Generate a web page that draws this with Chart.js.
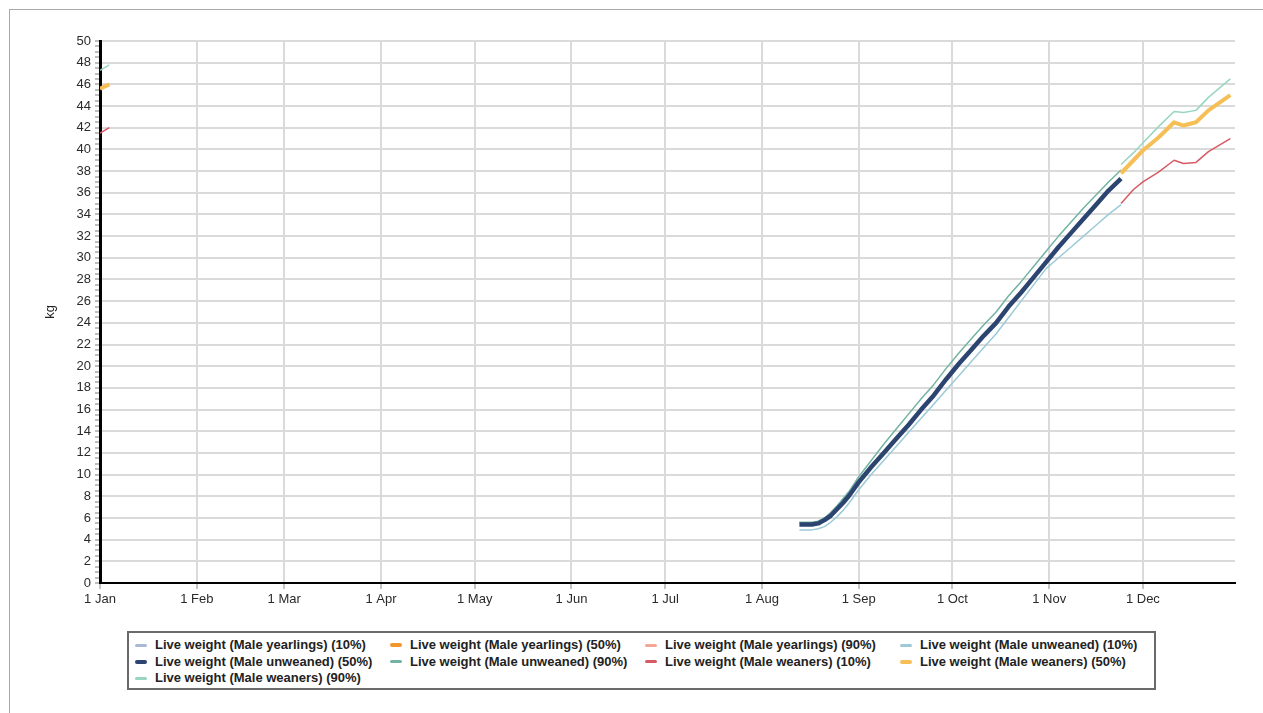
<!DOCTYPE html>
<html>
<head>
<meta charset="utf-8">
<script src="https://cdn.jsdelivr.net/npm/chart.js@4.4.1/dist/chart.umd.min.js"></script>
<style>
  html, body { margin: 0; padding: 0; background: #fff; width: 1263px; height: 713px; overflow: hidden; }
  #frame { position: absolute; left: 9px; top: 9px; width: 1300px; height: 800px; border-top: 1px solid #a8a8a8; border-left: 1px solid #a8a8a8; }
  #wrap { position: absolute; left: 0; top: 0; width: 1263px; height: 625px; }
  #legend { position: absolute; left: 127px; top: 631px; width: 1025px; height: 55px; border: 2px solid #6a6a6a; box-sizing: content-box; font: bold 13px "Liberation Sans", Arial, sans-serif; color: #222; }
  #legend .item { position: absolute; height: 16px; line-height: 16px; white-space: nowrap; }
  #legend .mk { position: absolute; left: 0; top: 50%; width: 12px; border-radius: 2px; }
  #legend .tx { position: absolute; left: 20px; top: 0; }
</style>
</head>
<body>
<div id="frame"></div>
<div id="wrap"><canvas id="c" width="1263" height="625"></canvas></div>
<div id="legend"></div>
<script>
// ---- data (x = day of year, 0 = 1 Jan) ----
const monthDays = [0, 31, 59, 90, 120, 151, 181, 212, 243, 273, 304, 334];
const monthLabels = ['1 Jan', '1 Feb', '1 Mar', '1 Apr', '1 May', '1 Jun', '1 Jul', '1 Aug', '1 Sep', '1 Oct', '1 Nov', '1 Dec'];

const unweanedDays = [224,226,228,230,232,234,236,238,240,243,247,251,255,259,263,267,271,275,279,283,287,291,295,299,303,307,311,315,319,323,327];
const unweaned10 = [4.9,4.9,4.9,5.0,5.2,5.6,6.1,6.7,7.4,8.6,10.0,11.3,12.6,13.9,15.2,16.5,17.8,19.1,20.4,21.7,23.0,24.5,26.0,27.5,29.0,30.0,31.0,32.0,33.0,34.0,34.9];
const unweaned50 = [5.4,5.4,5.4,5.5,5.8,6.2,6.8,7.4,8.1,9.3,10.7,12.0,13.3,14.6,16.0,17.3,18.8,20.2,21.5,22.8,24.0,25.5,26.8,28.2,29.6,31.0,32.3,33.6,34.9,36.2,37.3];
const unweaned90 = [5.6,5.6,5.6,5.7,6.0,6.5,7.1,7.8,8.5,9.8,11.3,12.8,14.2,15.6,17.0,18.3,19.8,21.2,22.5,23.8,25.0,26.5,27.8,29.2,30.6,32.0,33.3,34.6,35.8,37.0,38.1];

const weanersJanDays = [0, 3];
const weanersJan10 = [41.5, 42.0];
const weanersJan50 = [45.6, 46.0];
const weanersJan90 = [47.3, 47.8];

const weanersDecDays = [327, 331, 334, 339, 344, 347, 351, 355, 362];
const weanersDec10 = [35.0, 36.3, 37.0, 37.9, 39.0, 38.7, 38.8, 39.8, 41.0];
const weanersDec50 = [37.8, 39.0, 39.9, 41.1, 42.5, 42.2, 42.5, 43.6, 45.0];
const weanersDec90 = [38.6, 39.7, 40.6, 42.1, 43.5, 43.4, 43.6, 44.8, 46.5];

const yearlings10 = [];
const yearlings50 = [];
const yearlings90 = [];

const seriesNames = [
  'Live weight (Male yearlings) (10%)', 'Live weight (Male yearlings) (50%)', 'Live weight (Male yearlings) (90%)',
  'Live weight (Male unweaned) (10%)', 'Live weight (Male unweaned) (50%)', 'Live weight (Male unweaned) (90%)',
  'Live weight (Male weaners) (10%)', 'Live weight (Male weaners) (50%)', 'Live weight (Male weaners) (90%)'
];

// ---- helpers ----
function pts(days, vals) { return days.map((d, i) => ({ x: d, y: vals[i] })); }
function joined(d1, v1, d2, v2) {
  return pts(d1, v1).concat([{ x: d1[d1.length - 1] + 1, y: null }], pts(d2, v2));
}

const colors = ['#a9b8d6', '#f2962e', '#f5a596', '#9ccad8', '#2c4470', '#72b3a3', '#d65a64', '#f5bf55', '#98d6c0'];
const widths = [1.5, 4, 1.5, 1.5, 4.5, 1.5, 1.5, 4, 1.5];
const dataSets = [
  pts([], yearlings10), pts([], yearlings50), pts([], yearlings90),
  pts(unweanedDays, unweaned10), pts(unweanedDays, unweaned50), pts(unweanedDays, unweaned90),
  joined(weanersJanDays, weanersJan10, weanersDecDays, weanersDec10),
  joined(weanersJanDays, weanersJan50, weanersDecDays, weanersDec50),
  joined(weanersJanDays, weanersJan90, weanersDecDays, weanersDec90)
];
// draw order: thin lines behind, thick on top
const order = [5, 2, 5, 5, 1, 5, 5, 1, 5];

const datasets = seriesNames.map((name, i) => ({
  label: name,
  data: dataSets[i],
  borderColor: colors[i],
  backgroundColor: colors[i],
  borderWidth: widths[i],
  pointRadius: 0,
  pointHoverRadius: 0,
  tension: 0,
  spanGaps: false,
  order: order[i],
  borderCapStyle: 'butt',
  borderJoinStyle: 'round'
}));

const FONT = '"Liberation Sans", Arial, sans-serif';

const chart = new Chart(document.getElementById('c'), {
  type: 'line',
  data: { datasets },
  options: {
    responsive: false,
    animation: false,
    parsing: true,
    layout: { padding: { left: 40, top: 41, right: 28, bottom: 12 } },
    plugins: { legend: { display: false }, tooltip: { enabled: false } },
    scales: {
      x: {
        type: 'linear',
        min: 0,
        max: 363.5,
        afterBuildTicks: (s) => { s.ticks = monthDays.map(v => ({ value: v })); },
        afterFit: (s) => { s.height = 30; },
        ticks: {
          autoSkip: false,
          maxRotation: 0,
          padding: 3,
          color: '#2a2a2a',
          font: { family: FONT, size: 13 },
          callback: (v, i) => monthLabels[i]
        },
        grid: { color: '#dadada', lineWidth: 2, tickLength: 6, tickColor: '#b0b0b0', tickWidth: 1.5 },
        border: { color: '#000', width: 2 }
      },
      y: {
        min: 0,
        max: 50,
        afterFit: (s) => { s.width = 60; },
        title: { display: true, text: 'kg', color: '#222', font: { family: FONT, size: 13 }, padding: { top: 3, bottom: 4 } },
        ticks: {
          stepSize: 0.5,
          autoSkip: false,
          padding: 4,
          color: '#2a2a2a',
          font: { family: FONT, size: 13 },
          callback: (v) => (Math.abs(v % 2) < 1e-9 ? String(v) : '')
        },
        grid: {
          color: (ctx) => (ctx.tick && Math.abs(ctx.tick.value % 2) < 1e-9 ? '#dadada' : 'rgba(0,0,0,0)'),
          lineWidth: 2,
          tickLength: 5,
          tickColor: '#a8a8a8',
          tickWidth: 1.5
        },
        border: { color: '#000', width: 3 }
      }
    }
  }
});

// legend built from the chart's datasets (4 columns)
const lg = document.getElementById('legend');
chart.data.datasets.forEach((ds, i) => {
  const col = i % 4, row = Math.floor(i / 4);
  const it = document.createElement('div');
  it.className = 'item';
  it.style.left = (6 + col * 255) + 'px';
  it.style.top = (4 + row * 16.5) + 'px';
  const mk = document.createElement('div');
  mk.className = 'mk';
  const h = ds.borderWidth > 3 ? 4 : 3;
  mk.style.height = h + 'px';
  mk.style.marginTop = (-h / 2) + 'px';
  mk.style.background = ds.borderColor;
  const tx = document.createElement('span');
  tx.className = 'tx';
  tx.textContent = ds.label;
  it.appendChild(mk); it.appendChild(tx);
  lg.appendChild(it);
});
</script>
</body>
</html>
